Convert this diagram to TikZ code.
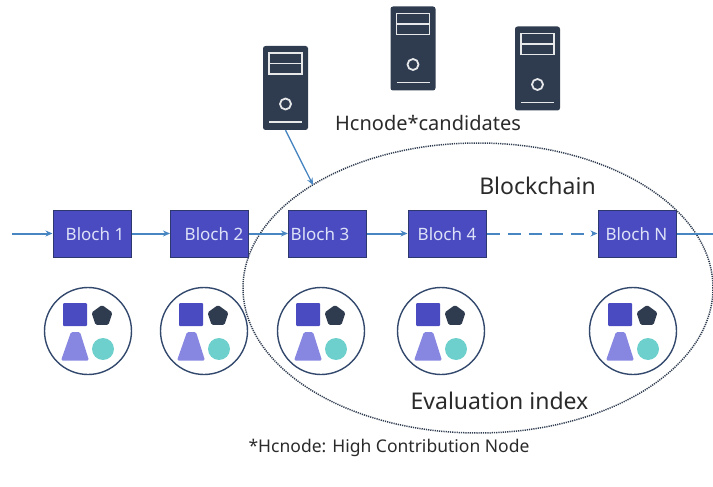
\documentclass[tikz,border=0pt]{standalone}
\usepackage{fontspec}
\setmainfont{Noto Sans}
\usetikzlibrary{arrows.meta}
\usetikzlibrary{shapes.geometric}
\definecolor{blk}{RGB}{74, 75, 192}
\definecolor{blkline}{RGB}{44, 56, 110}
\definecolor{blktext}{RGB}{222, 226, 248}
\definecolor{srv}{RGB}{47, 60, 80}
\definecolor{link}{RGB}{72, 134, 194}
\definecolor{ring}{RGB}{50, 72, 108}
\definecolor{lilac}{RGB}{135, 135, 225}
\definecolor{teal}{RGB}{110, 208, 205}
\definecolor{inktext}{RGB}{42, 42, 42}
\tikzset{
	blockbox/.style={draw=blkline,fill=blk,line width=1pt,minimum width=78pt,minimum height=47pt,inner sep=0pt},
	blocklabel/.style={text=blktext,inner sep=0pt,font=\fontsize{17}{19}\selectfont},
	linkline/.style={color=link,line width=1.3pt,-{Stealth[length=7pt,width=6pt]}},
	chainline/.style={linkline,line width=2pt},
	serverbox/.style={fill=srv,rounded corners=2.5pt,minimum width=45pt,minimum height=84pt,inner sep=0pt},
	bigtext/.style={text=inktext,inner sep=0pt,font=\fontsize{23}{26}\selectfont},
}
\begin{document}
\begin{tikzpicture}[x=1pt,y=-1pt]
	\useasboundingbox (0,0) rectangle (713,487);
	
	\node[draw=srv,dash pattern=on 1.2pt off 1pt,line width=1.5pt,ellipse,inner sep=0pt,minimum width=470pt,minimum height=290pt] (evalzone) at (478,288) {};
	
	% servers
	\foreach \name/\sx/\sy in {srvA/285.5/88,srvB/413/48.5,srvC/537.5/68.5} {
		\node[serverbox] (\name) at (\sx,\sy) {};
		\draw[white!88!srv,line width=1.6pt] (\sx-16.5,\sy-35) rectangle (\sx+16.5,\sy-14) (\sx-16.5,\sy-24.5)--(\sx+16.5,\sy-24.5);
		\draw[white!88!srv,line width=1.8pt] (\sx,\sy+16) circle (5.5pt);
		\draw[white!88!srv,line width=1.6pt] (\sx-16.5,\sy+34)--(\sx+16.5,\sy+34);
	}
	\coordinate (srvtip) at (313,185);
	\draw[linkline] (srvA.south)--(srvtip);
	
	% blocks
	\foreach \name/\bx/\tx/\txt in {blkA/92/95/Bloch 1,blkB/209.5/214/Bloch 2,blkC/327.5/320/Bloch 3,blkD/447/447/Bloch 4,blkN/637/636.5/Bloch N} {
		\node[blockbox] (\name) at (\bx,233.5) {};
		\node[blocklabel] (\name txt) at (\tx,234) {\txt};
	}
	\coordinate (chainin) at (12,233.5);
	\coordinate (chainout) at (713,233.5);
	\draw[chainline] (chainin)--(blkA);
	\draw[chainline] (blkA)--(blkB);
	\draw[chainline] (blkB)--(blkC);
	\draw[chainline] (blkC)--(blkD);
	\draw[chainline,dash pattern=on 13pt off 8pt] (blkD)--(blkN);
	\draw[color=link,line width=2pt] (blkN)--(chainout);
	
	% evaluation icons
	\foreach \cx in {88,204,321,441,633} {
		\begin{scope}[shift={(\cx,331)}]
			\node[draw=ring,line width=1.4pt,circle,inner sep=0pt,minimum size=87pt] (ring\cx) at (0,0) {};
			\fill[blk,rounded corners=1pt] (-25,-28) rectangle (-1,-5);
			\node[fill=srv,regular polygon,regular polygon sides=5,rounded corners=1.5pt,inner sep=0pt,minimum size=22pt] (penta\cx) at (14,-15) {};
			\fill[lilac,rounded corners=1.5pt] (-27,29.5)--(-17,1)--(-8,1)--(1,29.5)--cycle;
			\node[fill=teal,circle,inner sep=0pt,minimum size=22pt] (dot\cx) at (15,18) {};
		\end{scope}
	}
	
	\node[bigtext,font=\fontsize{20}{22}\selectfont] (candidates) at (428,123) {Hcnode*candidates};
	\node[bigtext] (chainname) at (537.5,186) {Blockchain};
	\node[bigtext] (evalname) at (499.5,401) {Evaluation index};
	\node[text=inktext,inner sep=0pt,font=\fontsize{17.5}{19}\selectfont] (footnote) at (389,448) {*Hcnode: High Contribution Node};
\end{tikzpicture}
\end{document}
